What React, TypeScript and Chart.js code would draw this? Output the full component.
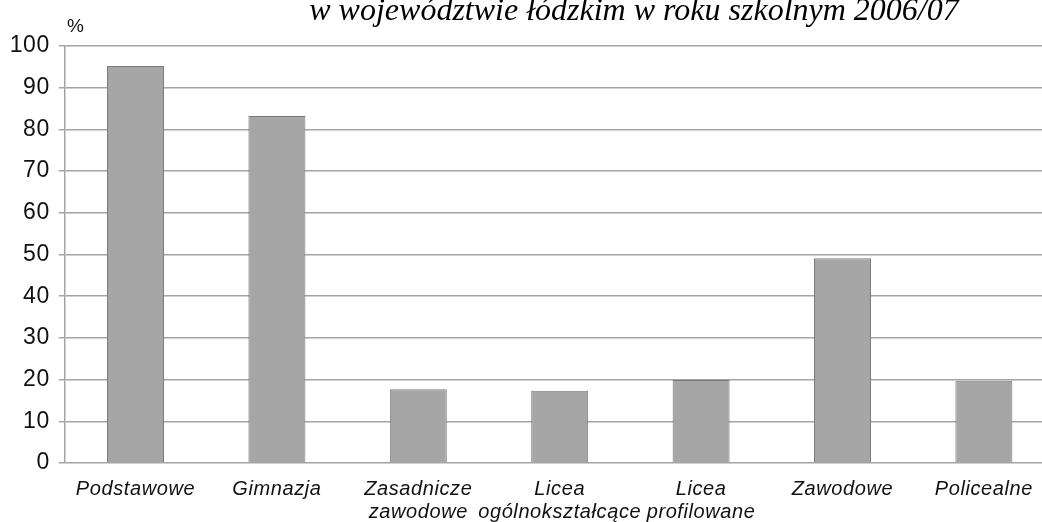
import React, { useEffect, useRef } from "react";
import { Chart, registerables } from "chart.js";

Chart.register(...registerables);

const categories: (string | string[])[] = [
  "Podstawowe",
  "Gimnazja",
  ["Zasadnicze", "zawodowe"],
  ["Licea", "ogólnokształcące"],
  ["Licea", "profilowane"],
  "Zawodowe",
  "Policealne",
];
const values = [95.2, 83.2, 17.7, 17.3, 19.9, 49.1, 19.7];
const titleText = "w województwie łódzkim w roku szkolnym 2006/07";
const unitText = "%";

const overlayPlugin = {
  id: "overlay",
  beforeDraw(chart: any) {
    const ctx = chart.ctx;
    ctx.letterSpacing = "0.6px";
  },
  afterDraw(chart: any) {
    const ctx = chart.ctx;
    ctx.save();
    ctx.letterSpacing = "0px";
    ctx.fillStyle = "#000";
    ctx.font = "italic 32px 'Liberation Serif', 'Times New Roman', serif";
    ctx.textAlign = "center";
    ctx.textBaseline = "alphabetic";
    ctx.fillText(titleText, 634, 20);
    ctx.font = "19px 'Liberation Sans', Arial, sans-serif";
    ctx.fillStyle = "#111";
    ctx.textAlign = "left";
    ctx.fillText(unitText, 67, 32);
    ctx.restore();
  },
};

export default function App() {
  const ref = useRef<HTMLCanvasElement>(null);
  useEffect(() => {
    if (!ref.current) return;
    const chart = new Chart(ref.current, {
      type: "bar",
      data: {
        labels: categories,
        datasets: [
          {
            data: values,
            backgroundColor: "#a6a6a6",
            borderColor: "#7a7a7a",
            borderWidth: 1,
            barPercentage: 0.403,
            categoryPercentage: 1,
          },
        ],
      },
      options: {
        animation: false,
        responsive: true,
        maintainAspectRatio: false,
        layout: { padding: { left: 0, top: 46, right: 15.4, bottom: 0 } },
        plugins: {
          legend: { display: false },
          tooltip: { enabled: false },
        },
        scales: {
          x: {
            grid: { display: false, drawTicks: false },
            border: { display: false },
            ticks: {
              color: "#111",
              padding: 14.5,
              maxRotation: 0,
              autoSkip: false,
              font: { family: "'Liberation Sans', Arial, sans-serif", size: 20, style: "italic", lineHeight: 1.15 },
            },
            afterFit(scale: any) {
              scale.height = 59;
            },
          },
          y: {
            min: 0,
            max: 100,
            ticks: {
              stepSize: 10,
              color: "#111",
              padding: 9,
              font: { family: "'Liberation Sans', Arial, sans-serif", size: 23 },
            },
            grid: {
              color: "#a4a4a4",
              lineWidth: 1.5,
              tickLength: 6,
              tickColor: "#a4a4a4",
            },
            border: { display: true, color: "#a4a4a4", width: 1.5 },
            afterFit(scale: any) {
              scale.width = 64.8;
            },
          },
        },
      },
      plugins: [overlayPlugin],
    });
    return () => chart.destroy();
  }, []);
  return (
    <div style={{ position: "fixed", left: 0, top: 0, width: 1042, height: 522, overflow: "hidden", background: "#fff" }}>
      <div style={{ position: "absolute", left: 0, top: 0, width: 1070, height: 522 }}>
        <canvas ref={ref} />
      </div>
    </div>
  );
}
